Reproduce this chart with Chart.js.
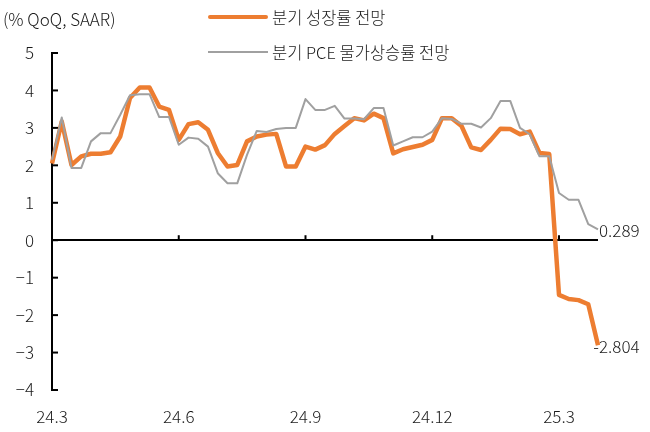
<!DOCTYPE html>
<html>
<head>
<meta charset="utf-8">
<script src="https://cdn.jsdelivr.net/npm/chart.js@4/dist/chart.umd.min.js"></script>
<style>
  body { margin: 0; background: #fff; }
  #wrap { position: relative; width: 650px; height: 432px; font-family: "Noto Sans CJK KR", sans-serif; font-weight: 300; color: #1a1a1a; }
  #unit { position: absolute; left: 3px; top: 6px; font-size: 17px; }
  .leg { position: absolute; left: 208px; font-size: 16.5px; display: flex; align-items: center; }
  .leg span.ln { display: inline-block; width: 60px; margin-right: 4px; }
</style>
</head>
<body>
<div id="wrap">
  <canvas id="c" width="650" height="432"></canvas>
  <div id="unit">(% QoQ, SAAR)</div>
  <div class="leg" style="top:5px"><span class="ln" style="height:4px;background:#ed7d31;border-radius:2px"></span>분기 성장률 전망</div>
  <div class="leg" style="top:40px"><span class="ln" style="height:2px;background:#a0a0a0"></span>분기 PCE 물가상승률 전망</div>
</div>
<script>
// weekly forecasts, 24.3 ~ 25.4
const tickLabels = ['24.3', '24.6', '24.9', '24.12', '25.3'];
const tickEvery = 13;

const gdp = [2.05, 3.17, 2.01, 2.24, 2.31, 2.31, 2.35, 2.77, 3.80, 4.08,
  4.08, 3.57, 3.48, 2.68, 3.10, 3.15, 2.95, 2.33, 1.97, 2.01,
  2.64, 2.77, 2.82, 2.84, 1.97, 1.97, 2.50, 2.42, 2.54, 2.84,
  3.05, 3.26, 3.20, 3.38, 3.26, 2.32, 2.43, 2.49, 2.55, 2.68,
  3.26, 3.26, 3.05, 2.48, 2.41, 2.68, 2.98, 2.97, 2.83, 2.90,
  2.33, 2.30, -1.46, -1.57, -1.60, -1.71, -2.804];

const pce = [2.15, 3.28, 1.93, 1.93, 2.64, 2.86, 2.86, 3.35, 3.87, 3.90,
  3.90, 3.29, 3.29, 2.55, 2.74, 2.71, 2.50, 1.79, 1.52, 1.52,
  2.28, 2.92, 2.89, 2.97, 3.00, 3.00, 3.77, 3.48, 3.48, 3.59,
  3.25, 3.25, 3.23, 3.53, 3.53, 2.53, 2.64, 2.75, 2.75, 2.90,
  3.26, 3.24, 3.11, 3.11, 3.01, 3.26, 3.72, 3.72, 3.00, 2.83,
  2.24, 2.24, 1.26, 1.08, 1.08, 0.43, 0.289];

const weeks = gdp.map((_, i) => i);
const FONT = '"Noto Sans CJK KR", sans-serif';

// small tick marks: inward on the y axis, upward on the zero line
const tickMarks = {
  id: 'tickMarks',
  beforeDatasetsDraw(chart) {
    const { ctx, scales: { x, y } } = chart;
    const y0 = y.getPixelForValue(0);
    ctx.save();
    ctx.strokeStyle = '#000';
    ctx.lineWidth = 2;
    y.ticks.forEach(t => {
      const py = y.getPixelForValue(t.value);
      ctx.beginPath();
      ctx.moveTo(x.left, py);
      ctx.lineTo(x.left + 6, py);
      ctx.stroke();
    });
    weeks.forEach(i => {
      if (i === 0 || i % tickEvery !== 0) return;
      const px = x.getPixelForValue(i);
      ctx.beginPath();
      ctx.moveTo(px, y0);
      ctx.lineTo(px, y0 - 5);
      ctx.stroke();
    });
    ctx.restore();
  }
};

// last value next to each line end
const endLabels = {
  id: 'endLabels',
  afterDatasetsDraw(chart) {
    const { ctx } = chart;
    ctx.save();
    ctx.font = '300 17px ' + FONT;
    ctx.fillStyle = '#1a1a1a';
    ctx.textBaseline = 'middle';
    ctx.textAlign = 'left';
    chart.data.datasets.forEach((ds, di) => {
      const pts = chart.getDatasetMeta(di).data;
      const p = pts[pts.length - 1];
      const v = ds.data[ds.data.length - 1];
      const txt = String(v);
      const shift = v < 0 ? ctx.measureText('-').width : 0;
      ctx.fillText(txt, p.x - shift + 1, p.y + 1);
    });
    ctx.restore();
  }
};

new Chart(document.getElementById('c'), {
  type: 'line',
  data: {
    labels: weeks,
    datasets: [{
      label: '분기 성장률 전망',
      data: gdp,
      borderColor: '#ed7d31',
      borderWidth: 4.5,
      order: 2
    }, {
      label: '분기 PCE 물가상승률 전망',
      data: pce,
      borderColor: '#a0a0a0',
      borderWidth: 2,
      order: 1
    }]
  },
  options: {
    responsive: false,
    animation: false,
    layout: { padding: { top: 53, right: 52, left: 0, bottom: 0 } },
    elements: {
      point: { radius: 0 },
      line: { tension: 0, borderJoinStyle: 'round', borderCapStyle: 'butt' }
    },
    plugins: { legend: { display: false }, tooltip: { enabled: false } },
    scales: {
      x: {
        type: 'category',
        offset: false,
        grid: { display: false },
        border: { display: false },
        ticks: {
          autoSkip: false,
          maxRotation: 0,
          padding: 8,
          color: '#1a1a1a',
          font: { family: FONT, size: 17, weight: 300 },
          callback: (v, i) => (i % tickEvery === 0 ? tickLabels[i / tickEvery] : null)
        },
        afterFit: s => { s.height = 42; }
      },
      y: {
        min: -4,
        max: 5,
        grid: {
          drawTicks: false,
          color: c => (c.tick && c.tick.value === 0 ? '#000' : 'rgba(0,0,0,0)'),
          lineWidth: 2
        },
        border: { color: '#000', width: 2 },
        ticks: {
          stepSize: 1,
          padding: 18,
          color: '#1a1a1a',
          font: { family: FONT, size: 17, weight: 300 },
          callback: v => String(v).replace('-', '\u2212')
        },
        afterFit: s => { s.width = 52; }
      }
    }
  },
  plugins: [tickMarks, endLabels]
});
</script>
</body>
</html>
